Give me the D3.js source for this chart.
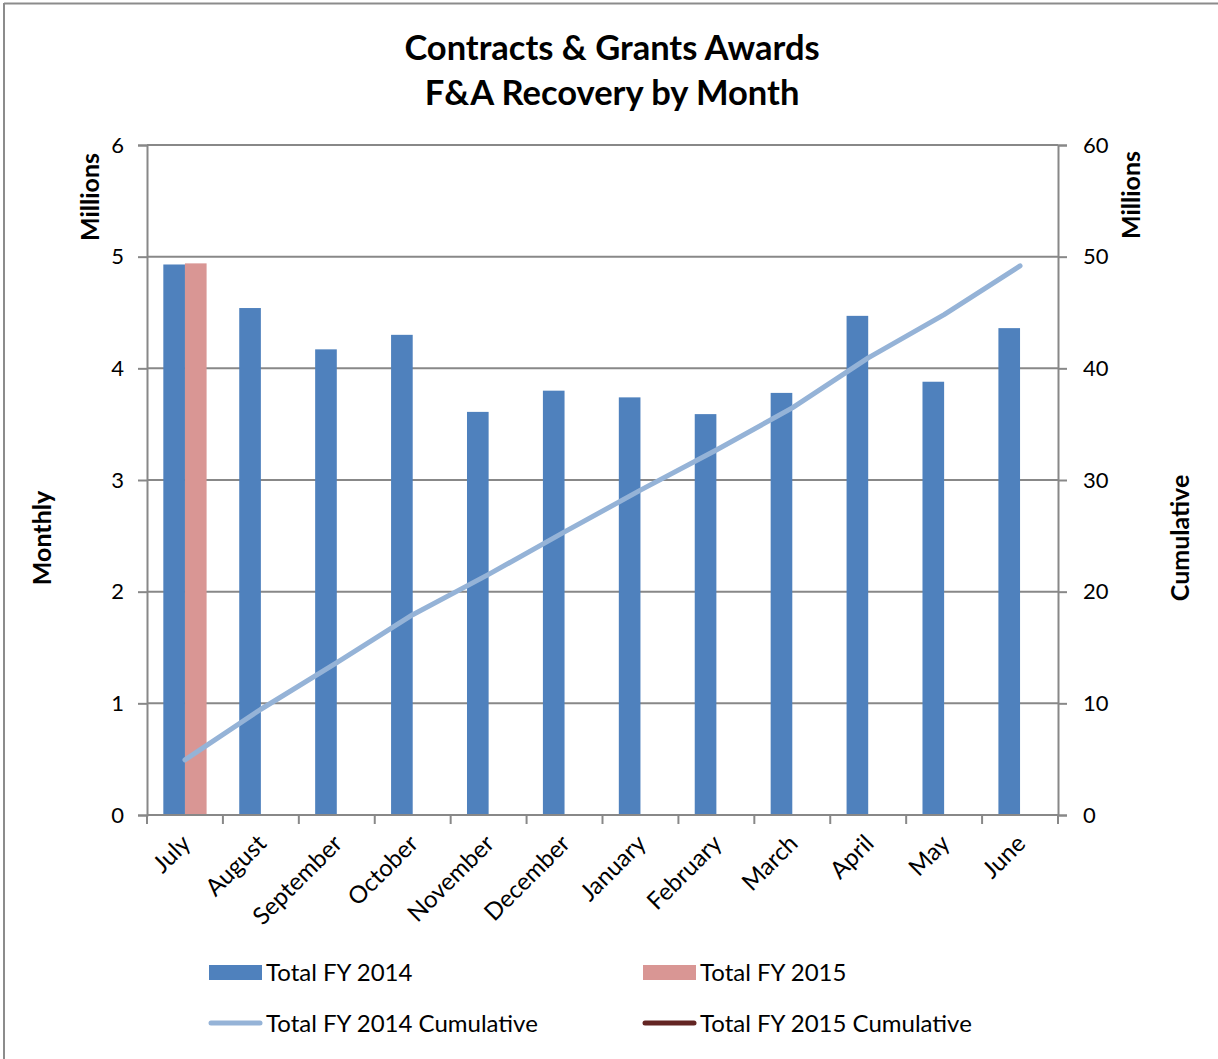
<!DOCTYPE html>
<html>
<head>
<meta charset="utf-8">
<script src="https://cdn.jsdelivr.net/npm/d3@7"></script>
<style>
  html, body { margin: 0; padding: 0; background: #fff; }
  svg { display: block; }
  text { font-family: Lato, "Open Sans", sans-serif; fill: #000; }
</style>
</head>
<body>
<svg id="chart" width="1218" height="1059"></svg>
<script>
const months = ["July","August","September","October","November","December","January","February","March","April","May","June"];
const seriesNames = ["Total FY 2014", "Total FY 2015"];
const fy2014 = [4.93, 4.54, 4.17, 4.30, 3.61, 3.80, 3.74, 3.59, 3.78, 4.47, 3.88, 4.36];
const fy2015 = [4.94, null, null, null, null, null, null, null, null, null, null, null];
const fy2014Cum = [4.93, 9.47, 13.64, 17.94, 21.55, 25.35, 29.09, 32.68, 36.46, 40.93, 44.81, 49.17];
const fy2015Cum = [4.94, null, null, null, null, null, null, null, null, null, null, null];
const leftTicks = [0, 1, 2, 3, 4, 5, 6];
const rightTicks = [0, 10, 20, 30, 40, 50, 60];
const titleLines = ["Contracts & Grants Awards", "F&A Recovery by Month"];

const colors = { bar14: "#4F81BD", bar15: "#D99694", line14: "#95B3D7", line15: "#632523", grid: "#888888" };

const svg = d3.select("#chart");
const W = 1218, H = 1059;
const plot = { left: 147, right: 1058, top: 145, bottom: 815 };

// outer frame (top & left visible)
svg.append("line").attr("x1", 4).attr("x2", W).attr("y1", 3.5).attr("y2", 3.5).attr("stroke", "#8c8c8c").attr("stroke-width", 2);
svg.append("line").attr("x1", 4).attr("x2", 4).attr("y1", 3).attr("y2", H).attr("stroke", "#8c8c8c").attr("stroke-width", 2);

// title
svg.selectAll("text.title").data(titleLines).join("text")
  .attr("class", "title")
  .attr("x", 612).attr("y", (d, i) => 60 + i * 45)
  .attr("text-anchor", "middle")
  .style("font-size", "34.5px").style("font-weight", "bold")
  .text(d => d);

const x0 = d3.scaleBand().domain(months).range([plot.left, plot.right]).padding(0);
const bw = x0.bandwidth();
const x1 = d3.scaleBand().domain(seriesNames).range([bw * 0.215, bw * 0.785]).padding(0);
const yL = d3.scaleLinear().domain([0, 6]).range([plot.bottom, plot.top]);
const yR = d3.scaleLinear().domain([0, 60]).range([plot.bottom, plot.top]);

// gridlines
svg.append("g").selectAll("line").data(leftTicks).join("line")
  .attr("x1", plot.left).attr("x2", plot.right)
  .attr("y1", d => yL(d)).attr("y2", d => yL(d))
  .attr("stroke", colors.grid).attr("stroke-width", 2);

// left axis
const gL = svg.append("g").attr("transform", `translate(${plot.left},0)`)
  .call(d3.axisLeft(yL).tickValues(leftTicks).tickSize(9).tickPadding(14).tickFormat(d3.format("d")));
gL.select(".domain").attr("stroke", colors.grid).attr("stroke-width", 2);
gL.selectAll(".tick line").attr("stroke", colors.grid).attr("stroke-width", 2);
gL.selectAll(".tick text").style("font-size", "22px").style("font-family", "Lato, sans-serif").attr("fill", "#000");

// right axis
const gR = svg.append("g").attr("transform", `translate(${plot.right},0)`)
  .call(d3.axisRight(yR).tickValues(rightTicks).tickSize(9).tickPadding(16).tickFormat(d3.format("d")));
gR.select(".domain").attr("stroke", colors.grid).attr("stroke-width", 2);
gR.selectAll(".tick line").attr("stroke", colors.grid).attr("stroke-width", 2);
gR.selectAll(".tick text").style("font-size", "22px").style("font-family", "Lato, sans-serif").attr("fill", "#000");

// bars
const barData = [];
months.forEach((m, i) => {
  barData.push({ m, s: seriesNames[0], v: fy2014[i], c: colors.bar14 });
  if (fy2015[i] != null) barData.push({ m, s: seriesNames[1], v: fy2015[i], c: colors.bar15 });
});
svg.append("g").selectAll("rect").data(barData).join("rect")
  .attr("x", d => x0(d.m) + x1(d.s))
  .attr("y", d => yL(d.v))
  .attr("width", x1.bandwidth())
  .attr("height", d => yL(0) - yL(d.v))
  .attr("fill", d => d.c);

// bottom axis (ticks at category boundaries)
const gB = svg.append("g").attr("transform", `translate(0,${plot.bottom})`);
gB.append("line").attr("x1", plot.left).attr("x2", plot.right).attr("stroke", colors.grid).attr("stroke-width", 2);
const boundaries = months.map(m => x0(m)).concat([plot.right]);
gB.selectAll("line.tk").data(boundaries).join("line").attr("class", "tk")
  .attr("x1", d => d).attr("x2", d => d).attr("y1", 0).attr("y2", 9)
  .attr("stroke", colors.grid).attr("stroke-width", 2);
gB.selectAll("text").data(months).join("text")
  .attr("transform", d => `translate(${x0(d) + bw / 2 + 7},${30}) rotate(-45)`)
  .attr("text-anchor", "end")
  .style("font-size", "24px")
  .text(d => d);

// cumulative lines
const line = d3.line()
  .defined(d => d.v != null)
  .x(d => x0(d.m) + bw / 2)
  .y(d => yR(d.v));
svg.append("path")
  .datum(months.map((m, i) => ({ m, v: fy2014Cum[i] })))
  .attr("d", line).attr("fill", "none")
  .attr("stroke", colors.line14).attr("stroke-width", 5).attr("stroke-linecap", "round").attr("stroke-linejoin", "round");
svg.append("path")
  .datum(months.map((m, i) => ({ m, v: fy2015Cum[i] })))
  .attr("d", line).attr("fill", "none")
  .attr("stroke", colors.line15).attr("stroke-width", 5).attr("stroke-linecap", "butt");

// axis titles
const axisTitles = [
  { t: "Millions", x: 99, y: 197 },
  { t: "Monthly", x: 51, y: 538 },
  { t: "Millions", x: 1140, y: 195 },
  { t: "Cumulative", x: 1189, y: 538 }
];
svg.selectAll("text.axt").data(axisTitles).join("text").attr("class", "axt")
  .attr("transform", d => `translate(${d.x},${d.y}) rotate(-90)`)
  .attr("text-anchor", "middle")
  .style("font-size", "25px").style("font-weight", "bold")
  .text(d => d.t);

// legend
const legendItems = [
  { name: "Total FY 2014", type: "bar", c: colors.bar14, x: 209, y: 972 },
  { name: "Total FY 2015", type: "bar", c: colors.bar15, x: 643, y: 972 },
  { name: "Total FY 2014 Cumulative", type: "line", c: colors.line14, x: 209, y: 1023 },
  { name: "Total FY 2015 Cumulative", type: "line", c: colors.line15, x: 643, y: 1023 }
];
const lg = svg.append("g").selectAll("g").data(legendItems).join("g")
  .attr("transform", d => `translate(${d.x},${d.y})`);
lg.filter(d => d.type === "bar").append("rect")
  .attr("x", 0).attr("y", -7).attr("width", 53).attr("height", 15).attr("fill", d => d.c);
lg.filter(d => d.type === "line").append("line")
  .attr("x1", 2).attr("x2", 51).attr("y1", 0).attr("y2", 0)
  .attr("stroke", d => d.c).attr("stroke-width", 5).attr("stroke-linecap", "round");
lg.append("text").attr("x", 57).attr("y", 9).style("font-size", "24px").text(d => d.name);
</script>
</body>
</html>
